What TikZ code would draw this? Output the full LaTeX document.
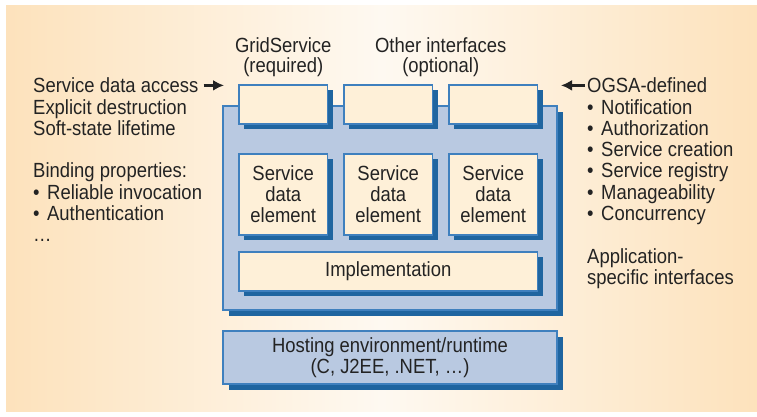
\documentclass[tikz,border=0pt]{standalone}
\usepackage{fontspec}
\setmainfont[FakeStretch=0.9]{Liberation Sans}
\usetikzlibrary{arrows.meta,calc,positioning,shadows}

\definecolor{paneledge}{HTML}{FDE2BC}
\definecolor{panelmid}{HTML}{FEF9F1}
\definecolor{layerblue}{HTML}{B9C9E1}
\definecolor{rimblue}{HTML}{3F80BE}
\definecolor{shadeblue}{HTML}{1F65A0}
\definecolor{cream}{HTML}{FEF0D8}
\definecolor{ink}{HTML}{232323}

\newcommand{\itm}{\makebox[14pt][l]{\textbullet}}

\tikzset{
    txt/.style={font=\fontsize{20.5}{21}\selectfont, text=ink, inner sep=0pt},
    toplbl/.style={txt, font=\fontsize{20.5}{20}\selectfont, align=center},
    boxbase/.style={draw=rimblue, line width=1.2pt, inner sep=0pt, outer sep=0pt, txt, align=center},
    layer/.style={boxbase, fill=layerblue,
        drop shadow={shadow xshift=6pt, shadow yshift=-6pt, fill=shadeblue, opacity=1}},
    part/.style={boxbase, fill=cream,
        drop shadow={shadow xshift=5pt, shadow yshift=-5pt, fill=shadeblue, opacity=1}},
    iface/.style={part, minimum width=88.5pt, minimum height=39pt},
    sdebox/.style={part, minimum width=88.5pt, minimum height=81pt},
    pointer/.style={-{Latex[length=11pt,width=11pt]}, line width=3pt, draw=ink},
}

\begin{document}
\begin{tikzpicture}[x=1pt, y=-1pt]

    \useasboundingbox (0,0) rectangle (757,416);
    \fill[left color=paneledge, right color=paneledge, middle color=panelmid]
        (6,5) rectangle (757,411);

    % service container and its parts
    \node[layer, minimum width=334pt, minimum height=204pt, anchor=north west] (core) at (223,106) {};

    \node[iface, anchor=north west] (if1) at (239,85) {};
    \node[iface, right=16.5pt of if1] (if2) {};
    \node[iface, right=16.5pt of if2] (if3) {};

    \node[sdebox, below=30pt of if1] (sde1) {Service\\data\\element};
    \node[sdebox, below=30pt of if2] (sde2) {Service\\data\\element};
    \node[sdebox, below=30pt of if3] (sde3) {Service\\data\\element};

    \node[part, minimum width=298.5pt, minimum height=39pt,
        below=17pt of sde1.south west, anchor=north west] (impl) {Implementation};

    % runtime underneath
    \node[layer, minimum width=334pt, minimum height=53pt, below=21pt of core] (host)
        {Hosting environment/runtime\\(C, J2EE, .NET, \dots)};

    % interface captions
    \node[toplbl, above=8pt of if1] (gs) {GridService\\(required)};
    \coordinate (optmid) at ($(if2.north)!0.5!(if3.north)$);
    \node[toplbl, above=8pt of optmid] (opt) {Other interfaces\\(optional)};

    % left list
    \foreach \line/\row in {Service data access/0, Explicit destruction/1, Soft-state lifetime/2,
        Binding properties:/4, \itm Reliable invocation/5, \itm Authentication/6, \dots/7}
        \node[txt, anchor=base west] (l\row) at (33, 92.7+21.3*\row) {\line};

    % right list
    \foreach \line/\row in {OGSA-defined/0, \itm Notification/1, \itm Authorization/2,
        \itm Service creation/3, \itm Service registry/4, \itm Manageability/5,
        \itm Concurrency/6, Application-/8, specific interfaces/9}
        \node[txt, anchor=base west] (r\row) at (587, 92.7+21.3*\row) {\line};

    \draw[pointer] ([xshift=5pt]l0.east) -- ([xshift=1pt]l0.east -| core.west);
    \draw[pointer] ([xshift=-2pt]r0.west) -- ([xshift=4pt]r0.west -| core.east);

\end{tikzpicture}
\end{document}
